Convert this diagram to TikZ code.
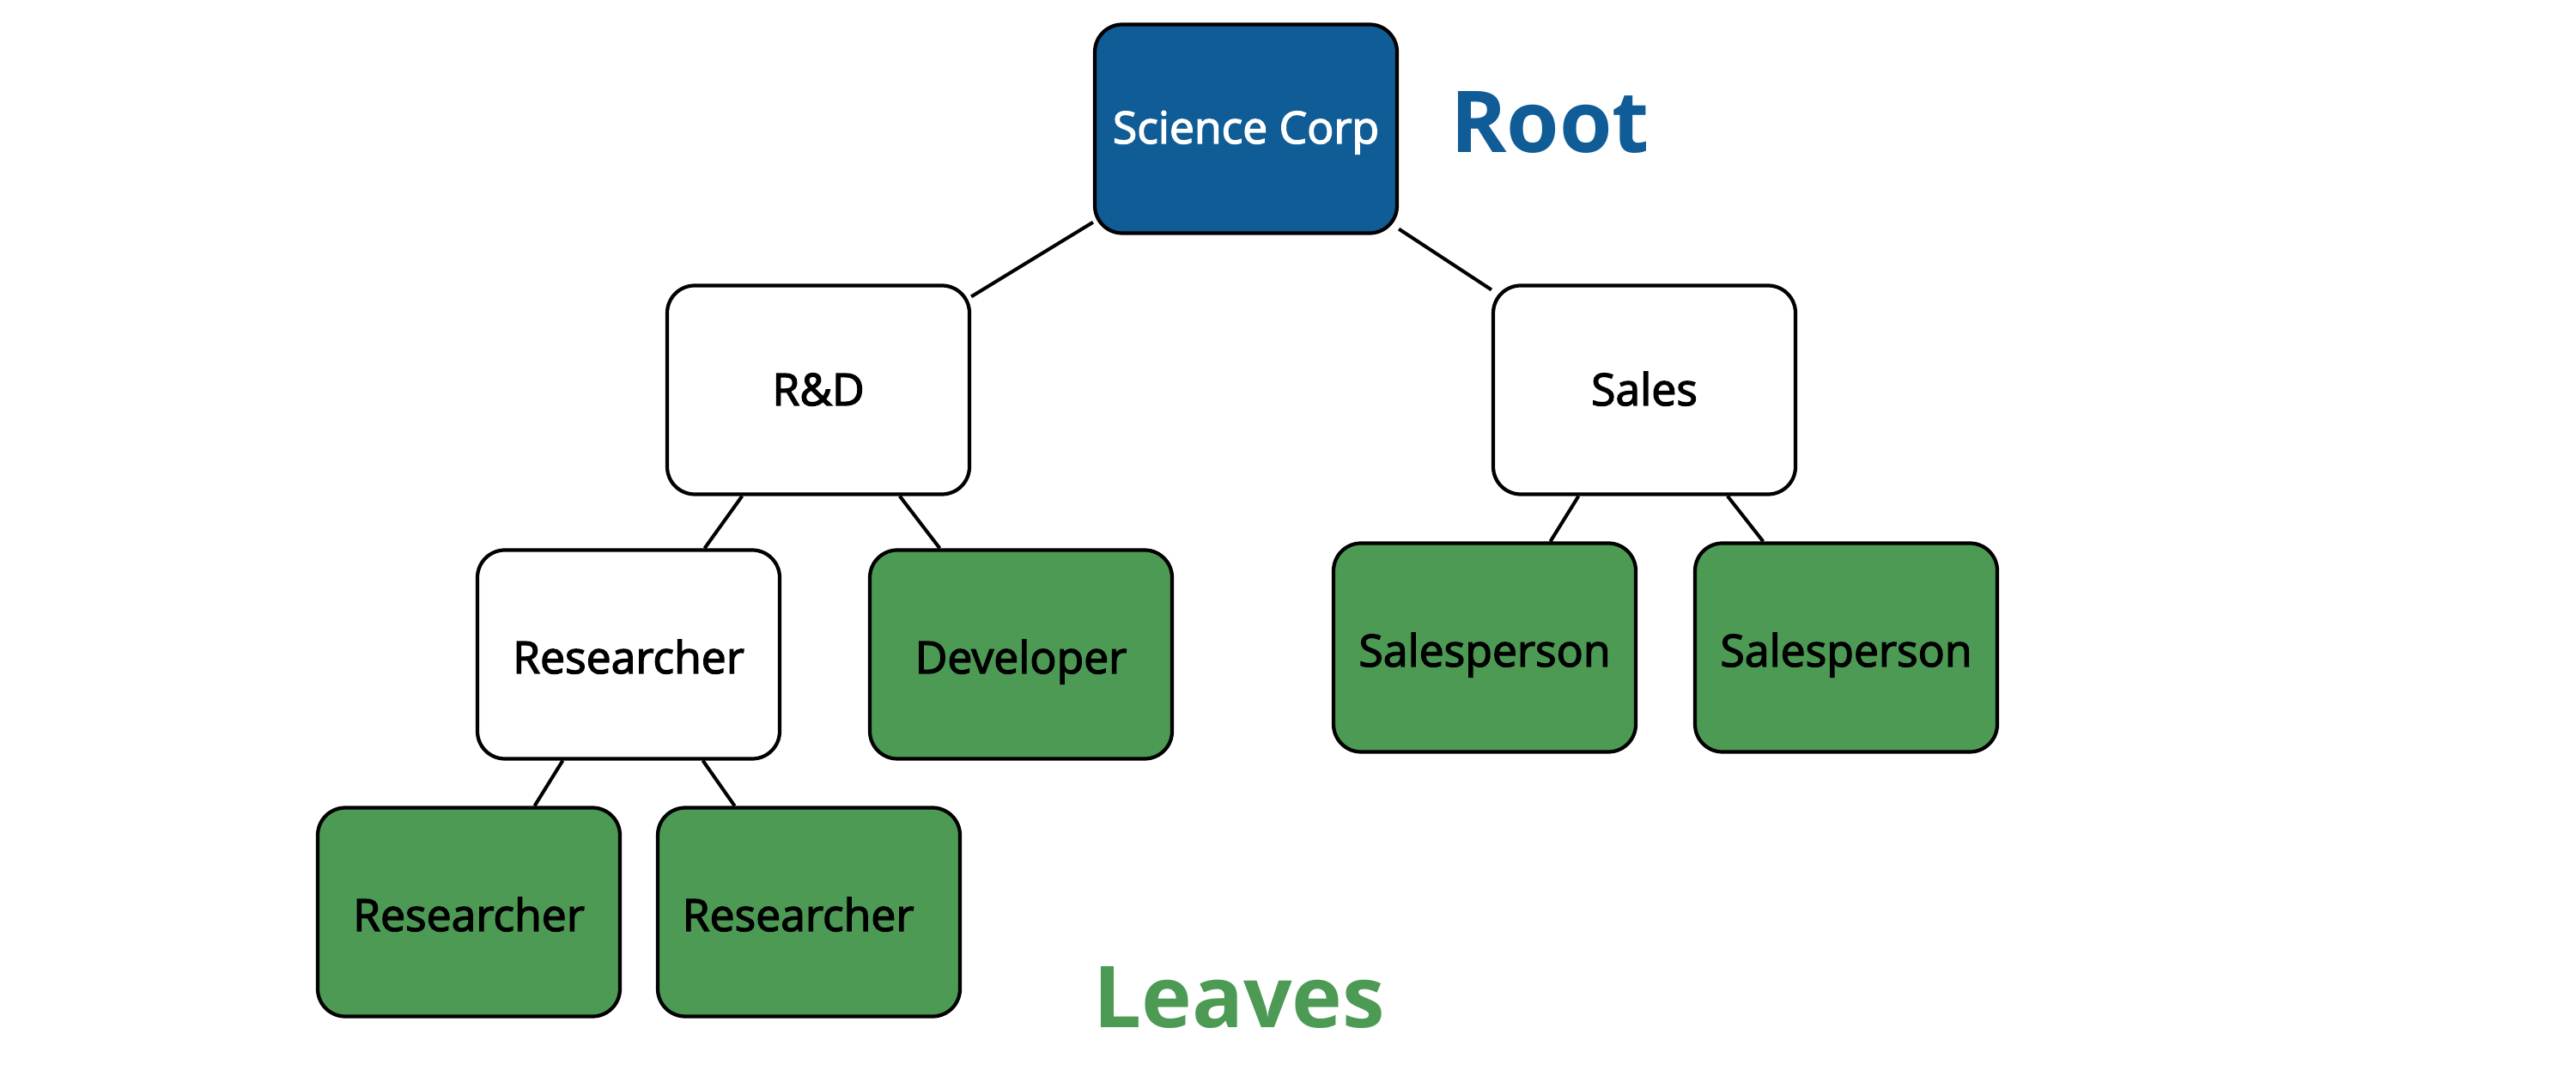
\documentclass[tikz,border=0pt]{standalone}
\usepackage{fontspec}
\setmainfont{Open Sans}
\newfontfamily\nodefont{Open Sans}[FakeBold=2.6]
\definecolor{rootblue}{RGB}{16,92,150}
\definecolor{leafgreen}{RGB}{76,154,84}
\begin{document}
\begin{tikzpicture}[
  box/.style={draw=black, line width=1.2pt, rounded corners=0.32cm,
    minimum width=3.52cm, minimum height=2.43cm, inner sep=0pt,
    font=\nodefont\fontsize{14.7pt}{17pt}\selectfont, text height=0.44cm, text depth=0pt},
  inner/.style={box, fill=white, text=black},
  midbox/.style={inner, text height=0.36cm},
  leaf/.style={box, fill=leafgreen, text=black},
  rootbox/.style={box, fill=rootblue, text=white, text height=0.34cm},
  edge/.style={draw=black, line width=1.15pt},
  label/.style={font=\fontsize{28.3pt}{32pt}\selectfont\bfseries, inner sep=0pt, text height=0.71cm, text depth=0pt}
]
\useasboundingbox (0,0) rectangle (30,12.67);
\node[rootbox] (sc) at (14.51,11.17) {Science Corp};
\node[midbox] (rd) at (9.53,8.13) {R\&D};
\node[midbox] (sales) at (19.15,8.13) {Sales};
\node[inner] (res) at (7.32,5.05) {Researcher};
\node[leaf] (dev) at (11.89,5.05) {Developer};
\node[leaf] (sp1) at (17.29,5.13) {Salesperson};
\node[leaf] (sp2) at (21.50,5.13) {Salesperson};
\node[leaf] (rg1) at (5.46,2.05) {Researcher};
\node[leaf] (rg2) at (9.42,2.05) {\hspace*{-0.25cm}Researcher};
\node[label, text=rootblue] (rootlbl) at (18.05,11.245) {Root};
\node[label, text=leafgreen] (leaflbl) at (14.43,1.065) {Leaves};
\draw[edge] (sc) -- (rd);
\draw[edge] (sc) -- (sales);
\draw[edge] (rd) -- (res);
\draw[edge] (rd) -- (dev);
\draw[edge] (sales) -- (sp1);
\draw[edge] (sales) -- (sp2);
\draw[edge] (res) -- (rg1);
\draw[edge] (res) -- (rg2);
\end{tikzpicture}
\end{document}
